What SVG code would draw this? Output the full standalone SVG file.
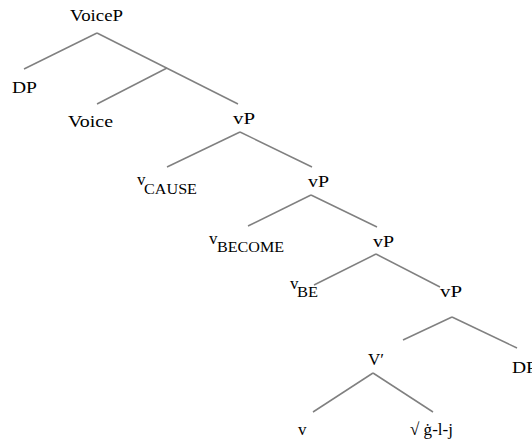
<svg xmlns="http://www.w3.org/2000/svg" width="532" height="443" viewBox="0 0 532 443">
<style>
text{font-family:'Liberation Serif','Times New Roman','DejaVu Serif',serif;font-size:17px;fill:#000}
.sub{font-size:14px}
line{stroke:#808080;stroke-width:1.5}
</style>
<rect width="532" height="443" fill="#fff"/>
<g id="connectors">
<line x1="97" y1="33" x2="24" y2="69"/>
<line x1="97" y1="33" x2="238" y2="104"/>
<line x1="167" y1="68" x2="97" y2="104"/>
<line x1="240" y1="132" x2="167" y2="167"/>
<line x1="240" y1="132" x2="312" y2="167"/>
<line x1="311" y1="195" x2="248" y2="226"/>
<line x1="311" y1="195" x2="377" y2="227"/>
<line x1="376" y1="254" x2="314" y2="285"/>
<line x1="376" y1="254" x2="440" y2="287"/>
<line x1="452" y1="317" x2="403" y2="340"/>
<line x1="452" y1="317" x2="517" y2="348"/>
<line x1="373" y1="373" x2="313" y2="412"/>
<line x1="373" y1="373" x2="433" y2="412"/>
</g>
<g id="VoiceP"><text x="70" y="21" textLength="53" lengthAdjust="spacingAndGlyphs">VoiceP</text></g>
<g id="DP1"><text x="12" y="93" textLength="25" lengthAdjust="spacingAndGlyphs">DP</text></g>
<g id="Voice"><text x="68" y="127" textLength="45" lengthAdjust="spacingAndGlyphs">Voice</text></g>
<g id="vP1"><text x="233" y="124" textLength="22" lengthAdjust="spacingAndGlyphs">vP</text></g>
<g id="vCAUSE"><text x="137" y="185">v</text><text class="sub" x="144" y="194" textLength="53" lengthAdjust="spacingAndGlyphs">CAUSE</text></g>
<g id="vP2"><text x="308" y="187" textLength="21" lengthAdjust="spacingAndGlyphs">vP</text></g>
<g id="vBECOME"><text x="209" y="244">v</text><text class="sub" x="217" y="252" textLength="67" lengthAdjust="spacingAndGlyphs">BECOME</text></g>
<g id="vP3"><text x="373" y="247" textLength="21" lengthAdjust="spacingAndGlyphs">vP</text></g>
<g id="vBE"><text x="290" y="289">v</text><text class="sub" x="297" y="297" textLength="21" lengthAdjust="spacingAndGlyphs">BE</text></g>
<g id="vP4"><text x="440" y="297" textLength="22" lengthAdjust="spacingAndGlyphs">vP</text></g>
<g id="Vbar"><text x="368" y="365">V′</text></g>
<g id="DP2"><text x="512" y="373" textLength="25" lengthAdjust="spacingAndGlyphs">DP</text></g>
<g id="v"><text x="298" y="435">v</text></g>
<g id="root"><text x="410" y="435" textLength="43" lengthAdjust="spacingAndGlyphs">√ ġ-l-j</text></g>
</svg>
